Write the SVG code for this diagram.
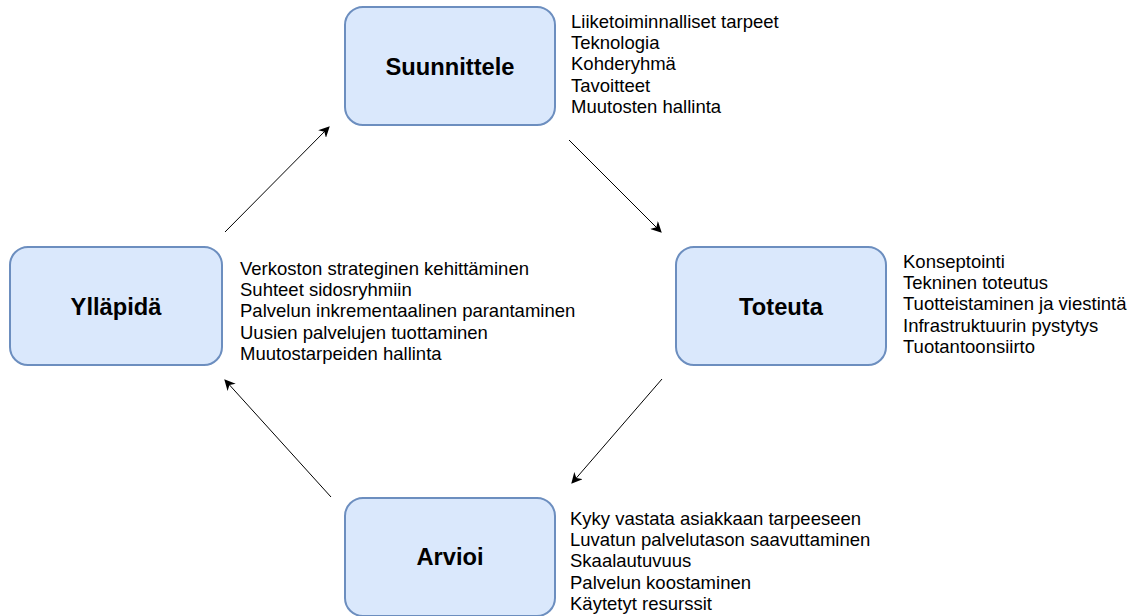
<svg xmlns="http://www.w3.org/2000/svg" width="1138" height="616" viewBox="0 0 1138 616">
<style>
.box{fill:#dae8fc;stroke:#6c8ebf;stroke-width:2}
.title{font-family:"Liberation Sans",Arial,sans-serif;font-size:23.7px;font-weight:bold;fill:#000;text-anchor:middle}
.list{font-family:"Liberation Sans",Arial,sans-serif;font-size:18.5px;fill:#000}
.conn{stroke:#000;stroke-width:1;fill:none;marker-end:url(#ah)}
</style>
<defs>
<marker id="ah" viewBox="0 0 10 10" refX="9" refY="5" markerWidth="11" markerHeight="11" markerUnits="userSpaceOnUse" orient="auto">
<path d="M0,0 L10,5 L0,10 L3,5 Z" fill="#000"/>
</marker>
</defs>
<rect width="1138" height="616" fill="#fff"/>
<g id="connectors">
<line class="conn" x1="225" y1="232" x2="329" y2="127"/>
<line class="conn" x1="569" y1="140" x2="661" y2="232"/>
<line class="conn" x1="662" y1="379" x2="572" y2="483"/>
<line class="conn" x1="331" y1="497" x2="225" y2="380"/>
</g>
<g id="suunnittele">
<rect class="box" x="345" y="7" width="210" height="118" rx="18"/>
<text class="title" x="450" y="75">Suunnittele</text>
<text class="list" x="571" y="28">
<tspan x="571" dy="0">Liiketoiminnalliset tarpeet</tspan>
<tspan x="571" dy="21.2">Teknologia</tspan>
<tspan x="571" dy="21.2">Kohderyhmä</tspan>
<tspan x="571" dy="21.2">Tavoitteet</tspan>
<tspan x="571" dy="21.2">Muutosten hallinta</tspan>
</text>
</g>
<g id="yllapida">
<rect class="box" x="10" y="247" width="212" height="118" rx="18"/>
<text class="title" x="116" y="315">Ylläpidä</text>
<text class="list" x="240" y="275">
<tspan x="240" dy="0">Verkoston strateginen kehittäminen</tspan>
<tspan x="240" dy="21.2">Suhteet sidosryhmiin</tspan>
<tspan x="240" dy="21.2">Palvelun inkrementaalinen parantaminen</tspan>
<tspan x="240" dy="21.2">Uusien palvelujen tuottaminen</tspan>
<tspan x="240" dy="21.2">Muutostarpeiden hallinta</tspan>
</text>
</g>
<g id="toteuta">
<rect class="box" x="676" y="247" width="210" height="118" rx="18"/>
<text class="title" x="781" y="315">Toteuta</text>
<text class="list" x="903" y="268">
<tspan x="903" dy="0">Konseptointi</tspan>
<tspan x="903" dy="21.2">Tekninen toteutus</tspan>
<tspan x="903" dy="21.2">Tuotteistaminen ja viestintä</tspan>
<tspan x="903" dy="21.2">Infrastruktuurin pystytys</tspan>
<tspan x="903" dy="21.2">Tuotantoonsiirto</tspan>
</text>
</g>
<g id="arvioi">
<rect class="box" x="345" y="498" width="210" height="118" rx="18"/>
<text class="title" x="450" y="565">Arvioi</text>
<text class="list" x="570" y="525">
<tspan x="570" dy="0">Kyky vastata asiakkaan tarpeeseen</tspan>
<tspan x="570" dy="21.2">Luvatun palvelutason saavuttaminen</tspan>
<tspan x="570" dy="21.2">Skaalautuvuus</tspan>
<tspan x="570" dy="21.2">Palvelun koostaminen</tspan>
<tspan x="570" dy="21.2">Käytetyt resurssit</tspan>
</text>
</g>
</svg>
